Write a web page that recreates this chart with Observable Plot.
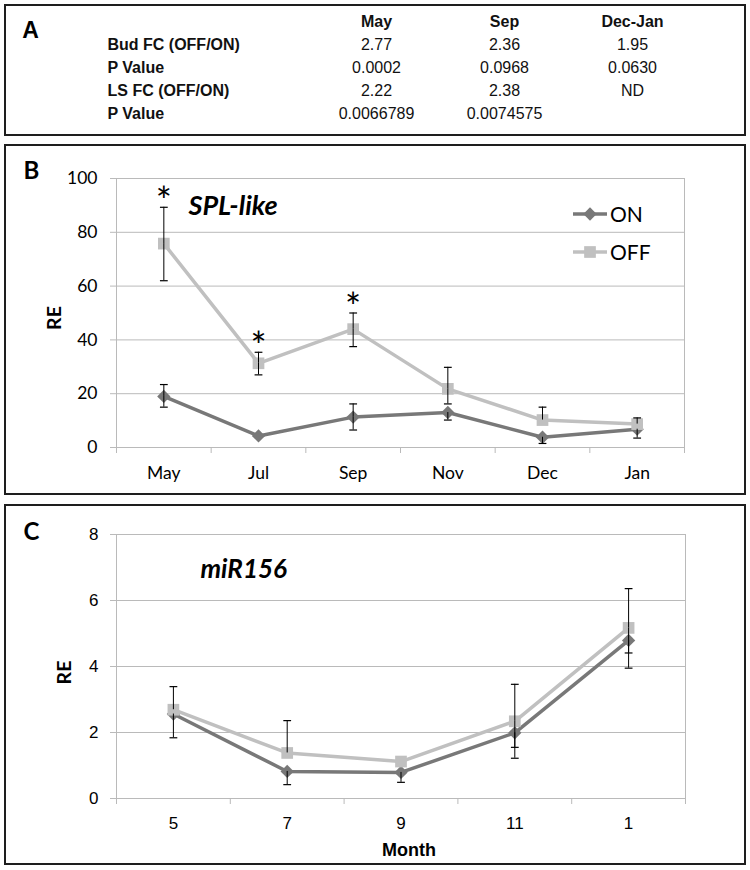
<!DOCTYPE html>
<html>
<head>
<meta charset="utf-8">
<script src="https://cdn.jsdelivr.net/npm/d3@7"></script>
<script src="https://cdn.jsdelivr.net/npm/@observablehq/plot@0.6"></script>
<style>
  html, body { margin: 0; padding: 0; background: #fff; }
  #page { position: relative; width: 750px; height: 870px; overflow: hidden; background: #fff; }
  .box { position: absolute; left: 4px; width: 742px; border: 2px solid #1e1e1e; box-sizing: border-box; }
  .panel { position: absolute; left: 0; }
  .panel svg { display: block; }
</style>
</head>
<body>
<div id="page">
  <div class="box" style="top:4px;height:132px"></div>
  <div class="box" style="top:144px;height:351px"></div>
  <div class="box" style="top:504px;height:361px"></div>
  <div class="panel" id="pa" style="top:0px"></div>
  <div class="panel" id="pb" style="top:145px"></div>
  <div class="panel" id="pc" style="top:505px"></div>
  <svg id="legend" width="750" height="870" style="position:absolute;left:0;top:0;pointer-events:none"></svg>
</div>
<script>
// ---------- Panel A: table ----------
const tableCols = ["May", "Sep", "Dec-Jan"];
const tableRowLabels = ["Bud FC (OFF/ON)", "P Value", "LS FC (OFF/ON)", "P Value"];
const tableCells = [
  ["2.77", "2.36", "1.95"],
  ["0.0002", "0.0968", "0.0630"],
  ["2.22", "2.38", "ND"],
  ["0.0066789", "0.0074575", ""]
];

// ---------- Panel B: SPL-like ----------
const splMonths = ["May", "Jul", "Sep", "Nov", "Dec", "Jan"];
const splOn      = [19.0, 4.3, 11.3, 13.0, 3.8, 6.8];
const splOnLow   = [15.0, 4.3, 6.5, 10.2, 1.5, 3.5];
const splOnHigh  = [23.4, 4.3, 16.2, 13.0, 3.8, 6.8];
const splOff     = [75.8, 31.3, 44.0, 21.8, 10.2, 8.7];
const splOffLow  = [62.0, 27.0, 37.5, 16.2, 10.2, 8.7];
const splOffHigh = [89.3, 35.4, 50.0, 29.8, 15.0, 11.0];
const splStars   = ["*", "*", "*", "", "", ""];
const yTicksB = [0, 20, 40, 60, 80, 100];

// ---------- Panel C: miR156 ----------
const mirMonths  = ["5", "7", "9", "11", "1"];
const mirOn      = [2.56, 0.82, 0.79, 1.99, 4.79];
const mirOnLow   = [1.84, 0.42, 0.49, 1.22, 3.95];
const mirOnHigh  = [2.56, 0.82, 0.79, 1.99, 4.79];
const mirOff     = [2.69, 1.38, 1.12, 2.34, 5.17];
const mirOffLow  = [2.69, 1.38, 1.12, 1.55, 4.41];
const mirOffHigh = [3.39, 2.36, 1.12, 3.46, 6.36];
const yTicksC = [0, 2, 4, 6, 8];

const seriesNames = ["ON", "OFF"];
const onColor = "#787878";
const offColor = "#c0c0c0";
const gridColor = "#bababa";
const lato = "Lato, 'Open Sans', sans-serif";
const arial = "'Liberation Sans', Arial, sans-serif";

const capSymbol = {
  draw(ctx, size) { const r = Math.sqrt(size) / 2; ctx.moveTo(-r, 0); ctx.lineTo(r, 0); }
};

// ---- Panel A plot ----
const headerData = tableCols.map(c => ({row: 0, col: c, text: c}));
const cellData = [];
tableCells.forEach((r, i) => r.forEach((t, j) => cellData.push({row: i + 1, col: tableCols[j], text: t})));
const labelData = tableRowLabels.map((t, i) => ({row: i + 1, text: t}));

const plotA = Plot.plot({
  width: 750, height: 140,
  marginLeft: 107, marginRight: 10, marginTop: 10, marginBottom: 10,
  style: {background: "transparent", fontFamily: arial, fontSize: "16px", color: "#000"},
  x: {type: "point", domain: tableCols, range: [376, 632], padding: 0, axis: null, label: null},
  y: {type: "point", domain: [0, 1, 2, 3, 4], range: [20, 113], padding: 0, axis: null, label: null},
  marks: [
    Plot.text(headerData, {x: d => d.col, y: d => d.row, text: d => d.text,
      fontWeight: "bold", fontSize: 16, fill: "#111"}),
    Plot.text(cellData, {x: d => d.col, y: d => d.row, text: d => d.text,
      fontWeight: "normal", fontSize: 16, fill: "#111"}),
    Plot.text(labelData, {y: d => d.row, text: d => d.text, frameAnchor: "left",
      textAnchor: "start", fontWeight: "bold", fontSize: 16, fill: "#111"}),
    Plot.text(["A"], {text: d => d, frameAnchor: "top-left", lineAnchor: "middle", dx: -77, dy: 20,
      textAnchor: "middle", fontWeight: "bold", fontSize: 23, fill: "#000"})
  ]
});
document.getElementById("pa").append(plotA);

// ---- helpers ----
function buildRows(months, on, off) {
  return months.map((m, i) => ({x: i + 0.5, on: on[i], off: off[i]}));
}
function buildErr(months, vals, lo, hi) {
  const segs = [];
  months.forEach((m, i) => {
    if (lo[i] !== vals[i]) segs.push({x: i + 0.5, from: vals[i], to: lo[i]});
    if (hi[i] !== vals[i]) segs.push({x: i + 0.5, from: vals[i], to: hi[i]});
  });
  return segs;
}

function chart({months, on, onLo, onHi, off, offLo, offHi, yDomain, yTicks, height,
                margins, tickFont, tickSizeFont, tickPadX, tickPadY, title, titleDx, titleDy, titleSize,
                letter, letterDx, letterDy, reDx, reDy, extra}) {
  const n = months.length;
  const rows = buildRows(months, on, off);
  const errs = buildErr(months, on, onLo, onHi).concat(buildErr(months, off, offLo, offHi));
  return Plot.plot({
    width: 750, height,
    ...margins,
    style: {background: "transparent", fontFamily: tickFont, fontSize: tickSizeFont + "px", color: "#000"},
    x: {type: "linear", domain: [0, n], label: null},
    y: {type: "linear", domain: yDomain, label: null},
    marks: [
      Plot.gridY(yTicks, {stroke: gridColor, strokeOpacity: 1}),
      Plot.frame({stroke: gridColor}),
      Plot.axisY({ticks: yTicks, tickSize: 6, tickPadding: tickPadY, stroke: gridColor, strokeOpacity: 1,
        fontSize: tickSizeFont, fontFamily: tickFont, label: null}),
      Plot.axisX({ticks: d3.range(0, n + 1), tickSize: 6, stroke: gridColor, strokeOpacity: 1,
        tickFormat: () => "", label: null}),
      Plot.axisX({ticks: d3.range(n).map(i => i + 0.5), tickSize: 0, tickPadding: tickPadX,
        fontSize: tickSizeFont, fontFamily: tickFont, tickFormat: v => months[Math.floor(v)], label: null}),
      Plot.line(rows, {x: d => d.x, y: d => d.on, stroke: onColor, strokeWidth: 3.5}),
      Plot.dot(rows, {x: d => d.x, y: d => d.on, symbol: "diamond2", r: 6, fill: onColor, stroke: null}),
      Plot.line(rows, {x: d => d.x, y: d => d.off, stroke: offColor, strokeWidth: 3.5}),
      Plot.dot(rows, {x: d => d.x, y: d => d.off, symbol: "square", r: 6.6, fill: offColor, stroke: null}),
      Plot.ruleX(errs, {x: d => d.x, y1: d => d.from, y2: d => d.to, stroke: "#000", strokeWidth: 1}),
      Plot.dot(errs, {x: d => d.x, y: d => d.to, symbol: capSymbol, r: 4.4, stroke: "#000", fill: "none", strokeWidth: 1.2}),
      ...(extra || []),
      Plot.text([title], {text: d => d, frameAnchor: "top-left", lineAnchor: "middle", dx: titleDx, dy: titleDy,
        textAnchor: "start", fontFamily: lato, fontWeight: "bold", fontStyle: "italic", fontSize: titleSize, fill: "#000"}),
      Plot.text([letter], {text: d => d, frameAnchor: "top-left", lineAnchor: "middle", dx: letterDx, dy: letterDy,
        textAnchor: "middle", fontFamily: lato, fontWeight: "bold", fontSize: 24, fill: "#000"}),
      Plot.text(["RE"], {text: d => d, frameAnchor: "left", lineAnchor: "middle", dx: reDx, dy: reDy, rotate: -90,
        textAnchor: "middle", fontFamily: lato, fontWeight: "bold", fontSize: 19.5, fill: "#000"})
    ]
  });
}

// ---- Panel B ----
const starData = splMonths.map((m, i) => ({x: i + 0.5, y: splOffHigh[i], s: splStars[i]})).filter(d => d.s);
const plotB = chart({
  months: splMonths, on: splOn, onLo: splOnLow, onHi: splOnHigh, off: splOff, offLo: splOffLow, offHi: splOffHigh,
  yDomain: [0, 100], yTicks: yTicksB, height: 350,
  margins: {marginLeft: 116, marginRight: 66, marginTop: 33, marginBottom: 48},
  tickFont: lato, tickSizeFont: 17.5, tickPadX: 19, tickPadY: 13,
  title: "SPL-like", titleDx: 72, titleDy: 28, titleSize: 27,
  letter: "B", letterDx: -85, letterDy: -7,
  reDx: -62, reDy: 5,
  extra: [Plot.text(starData, {x: d => d.x, y: d => d.y, text: d => d.s, fontFamily: lato, fontSize: 38, dy: -4, fill: "#000"})]
});
document.getElementById("pb").append(plotB);

// ---- Panel C ----
const plotC = chart({
  months: mirMonths, on: mirOn, onLo: mirOnLow, onHi: mirOnHigh, off: mirOff, offLo: mirOffLow, offHi: mirOffHigh,
  yDomain: [0, 8], yTicks: yTicksC, height: 360,
  margins: {marginLeft: 116, marginRight: 65, marginTop: 29, marginBottom: 67},
  tickFont: arial, tickSizeFont: 17, tickPadX: 18, tickPadY: 12,
  title: "miR156", titleDx: 84, titleDy: 35, titleSize: 26,
  letter: "C", letterDx: -85, letterDy: -2,
  reDx: -52, reDy: 6,
  extra: [Plot.text(["Month"], {text: d => d, frameAnchor: "bottom", lineAnchor: "middle", dx: 8, dy: 52,
    fontFamily: arial, fontWeight: "bold", fontSize: 18, fill: "#000"})]
});
document.getElementById("pc").append(plotC);

// ---- Legend (panel B) ----
const legend = d3.select("#legend");
const legendItems = [
  {name: seriesNames[0], color: onColor, sym: d3.symbolDiamond2, size: Math.PI * 6 * 6, y: 214},
  {name: seriesNames[1], color: offColor, sym: d3.symbolSquare, size: Math.PI * 6.6 * 6.6, y: 252}
];
const lg = legend.selectAll("g").data(legendItems).join("g").attr("transform", d => `translate(0,${d.y})`);
lg.append("line").attr("x1", 573).attr("x2", 607).attr("y1", 0).attr("y2", 0)
  .attr("stroke", d => d.color).attr("stroke-width", 3.5);
lg.append("path").attr("transform", "translate(590,0)").attr("d", d => d3.symbol(d.sym, d.size)()).attr("fill", d => d.color);
lg.append("text").attr("x", 610).attr("y", 0).attr("dy", "0.36em").text(d => d.name)
  .attr("font-family", lato).attr("font-size", 21).attr("fill", "#000");
</script>
</body>
</html>
